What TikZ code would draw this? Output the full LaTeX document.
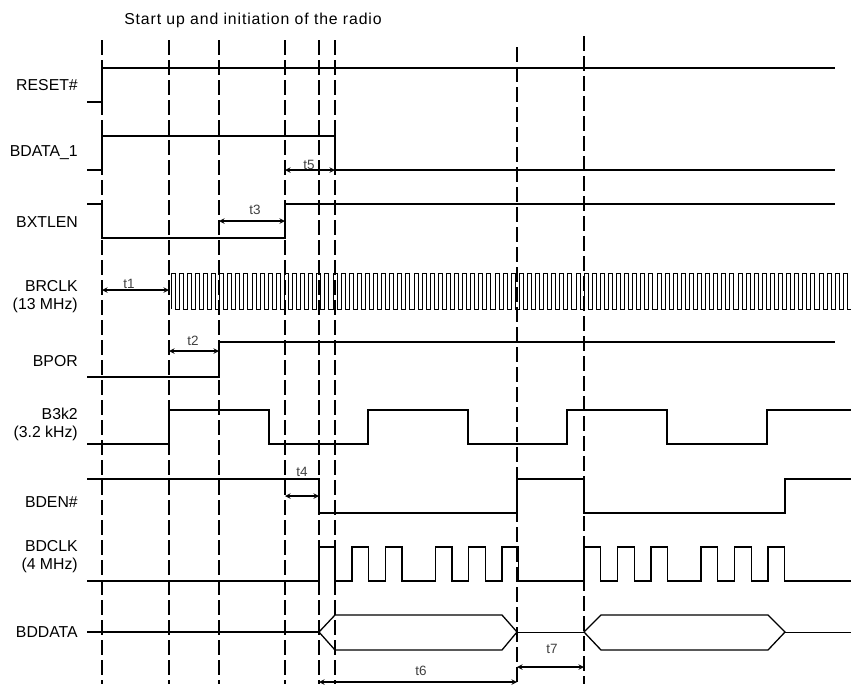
\documentclass[tikz,border=0pt]{standalone}
\usepackage{fontspec}
\setmainfont{Liberation Sans}
\tikzset{>=stealth}
\tikzset{
  wave/.style={line width=1.1pt, line join=miter},
  guide/.style={line width=1.5pt, dash pattern=on 0.45cm off 0.15cm},
  span/.style={<->, line width=1.1pt},
  sig/.style={anchor=east, inner sep=0pt, align=right, font=\fontsize{13.5}{15.4}\selectfont},
  tlab/.style={inner sep=0pt, text=black!75, font=\fontsize{11.5}{13}\selectfont}
}

\begin{document}
\begin{tikzpicture}[x=0.03cm, y=-0.03cm]
    \useasboundingbox (0,0) rectangle (851,687);

    \node [inner sep=0pt, font=\fontsize{13.5}{15.4}\selectfont\addfontfeature{LetterSpace=5.5}] (title) at (253,20) {Start up and initiation of the radio};

    % guide lines
    \foreach \gx in {102,169,219,285,319,335}
      \draw [guide] (\gx,40) -- (\gx,684);
    \draw [guide] (517,47) -- (517,684);
    \draw [guide] (584,36) -- (584,684);

    % signal names
    \node [sig] (reset) at (78,85) {RESET\#};
    \node [sig] (bdata) at (78,153) {BDATA\_1};
    \node [sig] (bxtlen) at (78,222) {BXTLEN};
    \node [sig] (brclk) at (78,297) {BRCLK\\(13 MHz)};
    \node [sig] (bpor) at (78,361) {BPOR};
    \node [sig] (bk) at (78,424) {B3k2\\(3.2 kHz)};
    \node [sig] (bden) at (78,502) {BDEN\#};
    \node [sig] (bdclk) at (78,557) {BDCLK\\(4 MHz)};
    \node [sig] (bddata) at (78,632) {BDDATA};

    % waveforms
    \draw [wave] (87,102) -- (102,102) -- (102,68) -- (835,68);
    \draw [wave] (87,170) -- (102,170) -- (102,136) -- (335,136) -- (335,170) -- (835,170);
    \draw [wave] (87,204) -- (102,204) -- (102,238) -- (285,238) -- (285,204) -- (835,204);
    \draw [wave, line width=0.8pt] (171,309) \foreach \i in {1,...,84} { -- ++(0,-36) -- ++(4,0) -- ++(0,36) -- ++(4.1,0) };
    \draw [wave] (87,377) -- (219,377) -- (219,342) -- (835,342);
    \draw [wave] (87,444) -- (169,444) -- (169,410) -- (269,410) -- (269,444) -- (368,444) -- (368,410)
      -- (468,410) -- (468,444) -- (567,444) -- (567,410) -- (667,410) -- (667,444) -- (767,444)
      -- (767,410) -- (851,410);
    \draw [wave] (87,479) -- (319,479) -- (319,513) -- (517,513) -- (517,479) -- (584,479) -- (584,513)
      -- (785,513) -- (785,479) -- (851,479);
    \draw [wave] (87,581) -- (319,581) -- (319,547) -- (335,547) -- (335,581)
      \foreach \s in {352,385.3,435.3,468.7,502,584,617.7,651,701,734.7,768}
        { -- (\s,581) -- (\s,547) -- ++(16.7,0) -- ++(0,34) } -- (851,581);
    \draw [wave] (87,632) -- (319,632);
    \draw [wave] (319,632) -- (335,615) -- (502,615) -- (517,632) -- (502,650) -- (335,650) -- cycle;
    \draw [line width=0.8pt] (517,632) -- (584,632);
    \draw [wave] (584,632) -- (601,615) -- (768,615) -- (785,632) -- (768,650) -- (601,650) -- cycle;
    \draw [line width=0.8pt] (785,632) -- (851,632);

    % timings
    \draw [span] (102,290) -- (169,290);
    \node [tlab] (t1) at (129,284) {t1};
    \draw [span] (169,351) -- (219,351);
    \node [tlab] (t2) at (193,341) {t2};
    \draw [span] (219,221) -- (285,221);
    \node [tlab] (t3) at (255,210) {t3};
    \draw [span] (285,496) -- (319,496);
    \node [tlab] (t4) at (302,472) {t4};
    \draw [span] (285,170) -- (335,170);
    \node [tlab] (t5) at (309,165) {t5};
    \draw [span] (319,682) -- (517,682);
    \node [tlab] (t6) at (421,671) {t6};
    \draw [span] (517,667) -- (584,667);
    \node [tlab] (t7) at (552,649) {t7};
\end{tikzpicture}
\end{document}
